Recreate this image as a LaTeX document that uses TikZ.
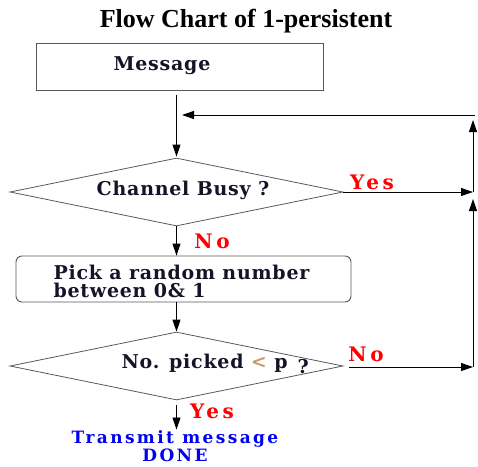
\documentclass[tikz,border=0pt]{standalone}
\usepackage{fontspec}
\setmainfont{Liberation Serif}
\newfontfamily\boxfont[LetterSpace=4]{DejaVu Serif}
\newfontfamily\answerfont[LetterSpace=18]{DejaVu Serif}
\newfontfamily\resultfont[LetterSpace=14]{DejaVu Serif}
\usetikzlibrary{shapes.geometric,arrows.meta,calc}

\definecolor{ink}{rgb}{0.08,0.08,0.16}
\definecolor{edge}{rgb}{0.35,0.35,0.35}
\definecolor{yesno}{rgb}{1,0,0}
\definecolor{done}{rgb}{0,0,0.95}
\definecolor{ltsign}{rgb}{0.78,0.6,0.42}

\tikzset{
  flowline/.style={draw=black, line width=0.9pt},
  arr/.style={flowline, -{Triangle[length=12pt,width=8pt]}},
  procbox/.style={draw=edge, line width=0.9pt, inner sep=0pt},
  decision/.style={diamond, draw=edge, line width=0.8pt, inner sep=0pt,
    minimum width=333pt, minimum height=68pt},
  boxtext/.style={text=ink, font=\fontsize{19}{20}\selectfont\boxfont\bfseries},
  answer/.style={text=yesno, font=\fontsize{20}{22}\selectfont\answerfont\bfseries, inner sep=0pt},
}

\begin{document}
\begin{tikzpicture}[x=1pt, y=-1pt]
  \useasboundingbox (0,0) rectangle (478,466);

  % heading
  \node (title) at (246,21) {\fontsize{26}{30}\selectfont\bfseries Flow Chart of 1-persistent};

  % boxes and decisions
  \node[procbox, minimum width=287pt, minimum height=47pt] (msg) at (179.5,66.5) {};
  \node[boxtext] (msgtxt) at (162,66) {Message};

  \node[decision] (busy) at (176.5,192) {};
  \node[boxtext] (busytxt) at (183,190) {Channel Busy ?};

  \node[procbox, rounded corners=6pt, minimum width=335pt, minimum height=46pt] (pick) at (183.5,279) {};
  \node[boxtext, align=left, anchor=west] (picktxt) at (50,281)
    {Pick a random number\\[-2pt]between 0\& 1};

  \node[decision] (picked) at (176.5,366) {};
  \node[boxtext, anchor=west] (pickedtxt) at (118,364)
    {No. picked {\color{ltsign}<} p\hspace{10pt}\raisebox{-5pt}{?}};

  \node[text=done, align=center, inner sep=0pt,
        font=\fontsize{17}{15}\selectfont\resultfont\bfseries]
    (result) at (175,446) {Transmit message\\DONE};

  % routing points of the retry loop
  \coordinate (join) at (182,115);
  \coordinate (topright) at (473,115);
  \coordinate (midright) at (473,192);
  \coordinate (below) at (473,199);
  \coordinate (lowright) at (473,367);

  % main path
  \draw[flowline] ($(busy.north |- msg.south)+(0,5)$) -- (busy.north |- join);
  \draw[arr] (busy.north |- join) -- ($(busy.north)+(0,-1)$);
  \draw[arr] (busy.south) -- (busy.south |- pick.north);
  \draw[arr] (busy.south |- pick.south) -- (picked.north);
  \draw[arr] ($(picked.south)+(0,5)$) -- ($(result.north -| picked.south)+(0,-1)$);

  % retry loop
  \draw[arr] (busy.east) -- (midright);
  \draw[arr] ($(picked.east)+(6,1)$) -- (lowright);
  \draw[arr] (lowright) -- (below);
  \draw[arr] (midright) -- ($(topright)+(0,5)$);
  \draw[flowline] (topright) -- ($(topright)+(2,0)$);
  \draw[arr] (topright) -- (join);

  % branch labels
  \node[answer] (yes1) at (372,182) {Yes};
  \node[answer] (no1) at (212,241) {No};
  \node[answer] (no2) at (366,354) {No};
  \node[answer] (yes2) at (212,411) {Yes};
\end{tikzpicture}
\end{document}
